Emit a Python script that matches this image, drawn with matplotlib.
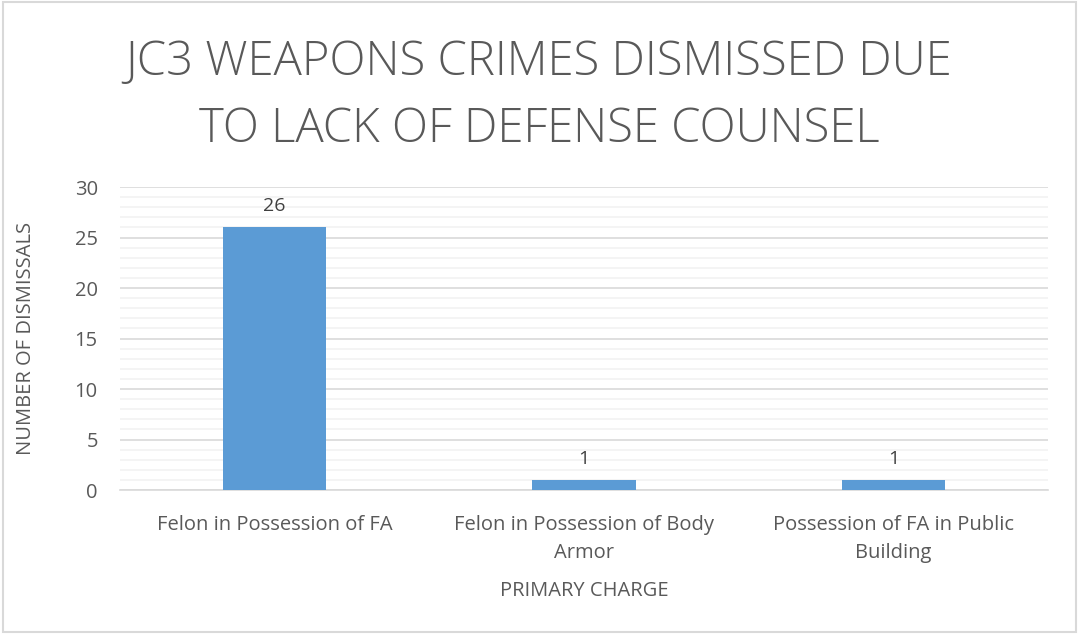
import matplotlib.pyplot as plt
from matplotlib.patches import Rectangle
from matplotlib.ticker import MultipleLocator

# ── Data ──────────────────────────────────────────────────────────────────────
charges = ["Felon in Possession of FA",
           "Felon in Possession of Body\nArmor",
           "Possession of FA in Public\nBuilding"]
dismissals = [26, 1, 1]

TITLE = "JC3 WEAPONS CRIMES DISMISSED DUE\nTO LACK OF DEFENSE COUNSEL"
TEXT = "#595959"
BAR = "#5B9BD5"

plt.rcParams["font.family"] = ["Open Sans", "DejaVu Sans"]

fig = plt.figure(figsize=(10.78, 6.34), dpi=100)
ax = fig.add_axes([0.1113, 0.2271, 0.8609, 0.4779])

x = range(len(charges))
ax.bar(x, dismissals, width=0.333, color=BAR, zorder=3)
for xi, v in zip(x, dismissals):
    ax.text(xi, v + 1.2, str(v), ha="center", va="bottom",
            fontsize=14, color="#404040")

ax.set_xlim(-0.5, 2.5)
ax.set_ylim(0, 30)
ax.yaxis.set_major_locator(MultipleLocator(5))
ax.yaxis.set_minor_locator(MultipleLocator(1))
ax.grid(axis="y", which="major", color="#D9D9D9", lw=1.2, zorder=0)
ax.grid(axis="y", which="minor", color="#F2F2F2", lw=1.2, zorder=0)
for s in ["top", "right", "left"]:
    ax.spines[s].set_visible(False)
ax.spines["bottom"].set_color("#D9D9D9")
ax.spines["bottom"].set_linewidth(1.2)
ax.tick_params(which="both", length=0)
ax.tick_params(axis="y", labelsize=14.5, labelcolor=TEXT, pad=16)
ax.tick_params(axis="x", labelsize=14.5, labelcolor=TEXT, pad=18)
ax.set_xticks(list(x))
ax.set_xticklabels(charges, linespacing=1.55)

ax.set_ylabel("NUMBER OF DISMISSALS", fontsize=14.5, color=TEXT, labelpad=28)
ax.set_xlabel("PRIMARY CHARGE", fontsize=14.5, color=TEXT, labelpad=13)

fig.text(0.5, 0.848, TITLE, ha="center", va="center", fontsize=34,
         color=TEXT, fontweight="light", linespacing=1.5)

fig.patches.append(Rectangle((0.003, 0.003), 0.995, 0.994, transform=fig.transFigure,
                             fill=False, edgecolor="#D9D9D9", lw=1.5))

fig.savefig("out.png", dpi=100)
